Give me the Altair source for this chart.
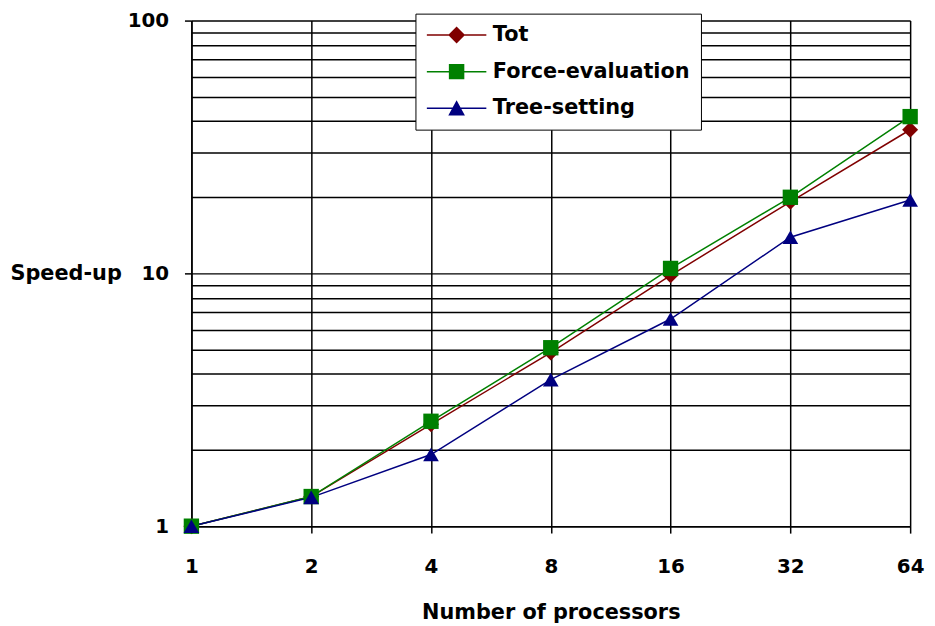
import altair as alt
import pandas as pd

procs = [1, 2, 4, 8, 16, 32, 64]
tot = [1.0, 1.31, 2.53, 4.86, 9.82, 19.2, 37.0]
force = [1.0, 1.31, 2.60, 5.08, 10.46, 20.0, 41.7]
tree = [1.0, 1.30, 1.92, 3.80, 6.6, 13.9, 19.5]

series_names = ["Tot", "Force-evaluation", "Tree-setting"]
series_colors = ["#800000", "#008000", "#000080"]
series_shapes = ["diamond", "square", "triangle-up"]
series_sizes = [260, 240, 250]
legend_paths = [
    "M-3,-0.075L3,-0.075L3,0.075L-3,0.075Z M0,-0.85L0.85,0L0,0.85L-0.85,0Z",
    "M-3,-0.075L3,-0.075L3,0.075L-3,0.075Z M-0.78,-0.78L0.78,-0.78L0.78,0.78L-0.78,0.78Z",
    "M-3,-0.075L3,-0.075L3,0.075L-3,0.075Z M0,-0.82L0.84,0.72L-0.84,0.72Z",
]

x_ticks = [1, 2, 4, 8, 16, 32, 64]
y_grid = [1, 2, 3, 4, 5, 6, 7, 8, 9, 10, 20, 30, 40, 50, 60, 70, 80, 90, 100]
y_labels = [1, 10, 100]

rows = []
for name, vals in zip(series_names, [tot, force, tree]):
    for p, v in zip(procs, vals):
        rows.append({"procs": p, "speedup": v, "series": name})
df = pd.DataFrame(rows)

FONT = "DejaVu Sans"

xenc = alt.X(
    "procs:Q",
    scale=alt.Scale(type="log", base=2, domain=[1, 64], nice=False),
    axis=alt.Axis(
        values=x_ticks, format="d", title="Number of processors",
        grid=True, gridColor="black", gridWidth=1.5, gridOpacity=1,
        domainColor="black", domainWidth=1.5,
        tickColor="black", tickSize=7, tickWidth=1.5,
        labelFont=FONT, labelFontSize=20, labelFontWeight="bold", labelColor="black",
        labelPadding=24, labelOverlap=False, labelFlush=False,
        titleFont=FONT, titleFontSize=21, titleFontWeight="bold", titleColor="black",
        titlePadding=25,
    ),
)
label_test = "indexof([" + ",".join(str(v) for v in y_labels) + "], datum.value) >= 0"
yenc = alt.Y(
    "speedup:Q",
    scale=alt.Scale(type="log", domain=[1, 100], nice=False),
    axis=alt.Axis(
        values=y_grid, format="d", title="Speed-up",
        labelExpr=label_test + " ? datum.label : ''",
        grid=True, gridColor="black", gridWidth=1.5, gridOpacity=1,
        domainColor="black", domainWidth=1.5,
        tickColor="black", tickSize=7, tickWidth=1.5,
        tickOpacity={"condition": {"test": label_test, "value": 1}, "value": 0},
        labelFont=FONT, labelFontSize=20, labelFontWeight="bold", labelColor="black",
        labelPadding=16, labelOverlap=False, labelFlush=False,
        titleFont=FONT, titleFontSize=21, titleFontWeight="bold", titleColor="black",
        titleAngle=0, titleAlign="left", titleBaseline="middle",
        titleX=-183, titleY=255,
    ),
)

layers = []
for name, col in zip(series_names, series_colors):
    layers.append(
        alt.Chart(df).transform_filter(alt.datum.series == name)
        .mark_line(strokeWidth=1.5, color=col)
        .encode(x=xenc, y=yenc)
    )
for name, col, shp, sz in zip(series_names, series_colors, series_shapes, series_sizes):
    layers.append(
        alt.Chart(df).transform_filter(alt.datum.series == name)
        .mark_point(filled=True, opacity=1, size=sz, color=col, shape=shp)
        .encode(x=xenc, y=yenc)
    )

leg = alt.Legend(
    title=None, orient="none", legendX=226, legendY=-7,
    strokeColor="black", fillColor="white", padding=11,
    labelFont=FONT, labelFontSize=21, labelFontWeight="bold", labelColor="black",
    labelLimit=400,
    symbolSize=400, symbolOpacity=1, symbolStrokeWidth=0,
    symbolOffset=20, labelOffset=26, rowPadding=15,
)
legend_layer = alt.Chart(df).mark_point(filled=True, opacity=0).encode(
    x=xenc, y=yenc,
    color=alt.Color("series:N", scale=alt.Scale(domain=series_names, range=series_colors), legend=leg),
    shape=alt.Shape("series:N", scale=alt.Scale(domain=series_names, range=legend_paths), legend=leg),
)
layers.append(legend_layer)

chart = alt.layer(*layers).properties(
    width=725, height=510,
    autosize=alt.AutoSizeParams(type="none"),
    padding={"left": 185, "top": 10, "right": 17, "bottom": 98},
    background="white",
).configure_view(strokeWidth=0)

chart.save("out.html", embed_options={"renderer": "svg", "actions": False})
